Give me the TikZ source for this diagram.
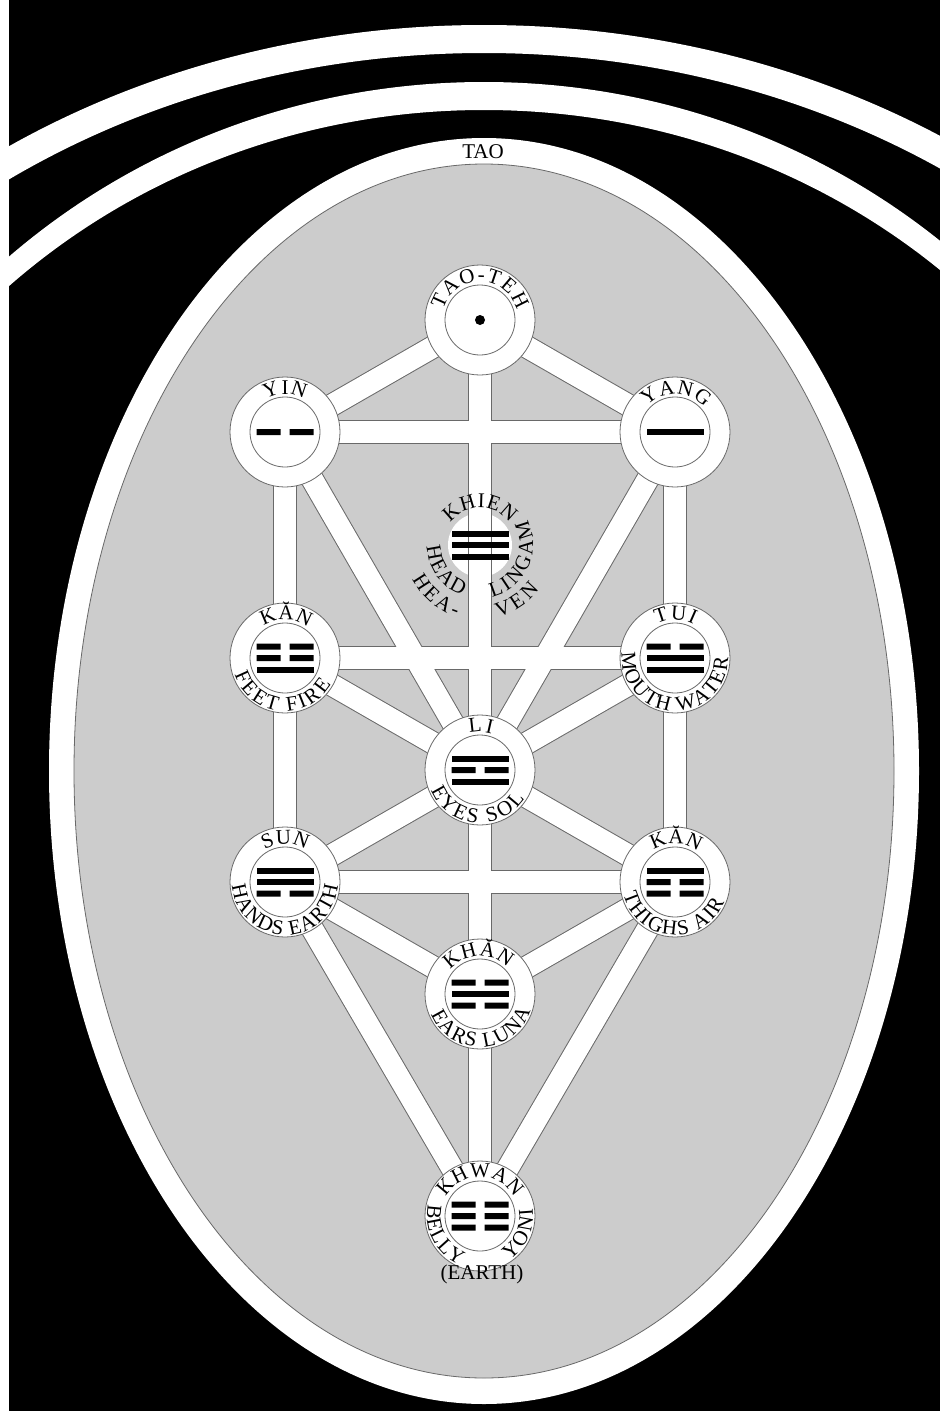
\documentclass[tikz,border=0pt]{standalone}
\usepackage{fontspec}
\setmainfont{Liberation Serif}
\usetikzlibrary{decorations.text,calc}
\definecolor{bgray}{RGB}{204,204,204}
\definecolor{egray}{RGB}{105,105,105}
\newcommand\lbl{\fontsize{21}{21}\selectfont}
\newcommand\ArcTxt[5]{\path[decorate,decoration={text along path,text align={fit to path},text={|\lbl|#5}}] ($(#1)+(#3:#2)$) arc[start angle=#3,end angle=#4,radius=#2];}
\newcommand\Sbar[2]{\fill[black] ($(#1)+(-28.5,#2-3)$) rectangle ++(57,6);}
\newcommand\Bbar[2]{\fill[black] ($(#1)+(-28.5,#2-3)$) rectangle ++(24,6) ($(#1)+(4.5,#2-3)$) rectangle ++(24,6);}
\tikzset{
  ring/.style={circle,draw=egray,line width=0.8,fill=white,minimum size=110,inner sep=0},
  innerc/.style={circle,draw=egray,line width=0.8,fill=white,minimum size=70,inner sep=0},
  pathedge/.style={draw=egray,line width=23.5},
  pathfill/.style={draw=white,line width=21.5},
}
\begin{document}
\begin{tikzpicture}[x=1pt,y=1pt]
\useasboundingbox (0,0) rectangle (940,-1411);
\fill[white] (0,0) rectangle (940,-1411);
\begin{scope}
\clip (9,0) rectangle (940,-1411);
\fill[black] (9,0) rectangle (940,-1411);
\fill[white] (484+869,-771) arc[start angle=0,end angle=180,x radius=869,y radius=746] -- (484-838,-771) arc[start angle=180,end angle=0,x radius=838,y radius=718] -- cycle;
\fill[white] (484+714,-771) arc[start angle=0,end angle=180,x radius=714,y radius=689] -- (484-699,-771) arc[start angle=180,end angle=0,x radius=699,y radius=661] -- cycle;
\fill[white] (484,-771) ellipse[x radius=435,y radius=633];
\filldraw[fill=bgray,draw=egray,line width=0.8] (484,-771) ellipse[x radius=410,y radius=607];
\end{scope}
\node[font=\lbl,inner sep=0] (tao) at (483,-152) {TAO};
% sephiroth centres
\coordinate (TT) at (480,-320);
\coordinate (YIN) at (285,-432);
\coordinate (YANG) at (675,-432);
\coordinate (KHIEN) at (480,-545);
\coordinate (KAN) at (285,-658);
\coordinate (TUI) at (675,-658);
\coordinate (LI) at (480,-770);
\coordinate (SUN) at (285,-882);
\coordinate (KANB) at (675,-882);
\coordinate (KHAN) at (480,-994);
\coordinate (KHWAN) at (480,-1216);
% hidden sephira
\node[circle,fill=white,minimum size=64,inner sep=0] (KHIENc) at (KHIEN) {};
% paths
\foreach \a/\b in {TT/YIN,TT/YANG,TT/LI,YIN/YANG,YIN/KAN,YIN/LI,YANG/TUI,YANG/LI,KAN/TUI,KAN/LI,KAN/SUN,TUI/LI,TUI/KANB,LI/SUN,LI/KANB,LI/KHAN,SUN/KANB,SUN/KHAN,SUN/KHWAN,KANB/KHAN,KANB/KHWAN,KHAN/KHWAN}
  \draw[pathedge] (\a) -- (\b);
\foreach \a/\b in {TT/YIN,TT/YANG,TT/LI,YIN/YANG,YIN/KAN,YIN/LI,YANG/TUI,YANG/LI,KAN/TUI,KAN/LI,KAN/SUN,TUI/LI,TUI/KANB,LI/SUN,LI/KANB,LI/KHAN,SUN/KANB,SUN/KHAN,SUN/KHWAN,KANB/KHAN,KANB/KHWAN,KHAN/KHWAN}
  \draw[pathfill] (\a) -- (\b);
% rings
\foreach \n in {TT,YIN,YANG,KAN,TUI,LI,SUN,KANB,KHAN,KHWAN}{
  \node[ring] (\n r) at (\n) {};
  \node[innerc] (\n i) at (\n) {};
}
% symbols
\fill[black] (TT) circle[radius=5];
\Bbar{YIN}{0}
\Sbar{YANG}{0}
\Sbar{KHIEN}{11.5}\Sbar{KHIEN}{0}\Sbar{KHIEN}{-11.5}
\Bbar{KAN}{11.5}\Bbar{KAN}{0}\Sbar{KAN}{-11.5}
\Bbar{TUI}{11.5}\Sbar{TUI}{0}\Sbar{TUI}{-11.5}
\Sbar{LI}{11.5}\Bbar{LI}{0}\Sbar{LI}{-11.5}
\Sbar{SUN}{11.5}\Sbar{SUN}{0}\Bbar{SUN}{-11.5}
\Sbar{KANB}{11.5}\Bbar{KANB}{0}\Bbar{KANB}{-11.5}
\Bbar{KHAN}{11.5}\Sbar{KHAN}{0}\Bbar{KHAN}{-11.5}
\Bbar{KHWAN}{11.5}\Bbar{KHWAN}{0}\Bbar{KHWAN}{-11.5}
% labels
\ArcTxt{TT}{38}{165}{15}{TAO-TEH}
\ArcTxt{YIN}{38}{120}{60}{YIN}
\ArcTxt{YANG}{38}{137}{40}{YANG}
\ArcTxt{KHIEN}{37}{143}{37}{KHIEN}
\ArcTxt{KHIEN}{53}{182}{250}{HEAD}
\ArcTxt{KHIEN}{53}{283}{388}{LINGAM}
\ArcTxt{KHIEN}{76}{207}{252}{HEA-}
\ArcTxt{KHIEN}{74}{284}{323}{VEN}
\ArcTxt{KAN}{38}{124}{53}{KĂN}
\ArcTxt{KAN}{53}{198}{330}{FEET FIRE}
\ArcTxt{TUI}{38}{118}{61}{TUI}
\ArcTxt{TUI}{53}{174}{360}{MOUTH WATER}
\ArcTxt{LI}{38}{106}{72}{LI}
\ArcTxt{LI}{53}{202}{327}{EYES SOL}
\ArcTxt{SUN}{38}{122}{57}{SUN}
\ArcTxt{SUN}{53}{184}{356}{HANDS EARTH}
\ArcTxt{KANB}{38}{124}{53}{KĂN}
\ArcTxt{KANB}{53}{194}{338}{THIGHS AIR}
\ArcTxt{KHAN}{38}{141}{44}{KHĂN}
\ArcTxt{KHAN}{53}{202}{342}{EARS LUNA}
\ArcTxt{KHWAN}{39}{151}{29}{KHWAN}
\ArcTxt{KHWAN}{53}{167}{247}{BELLY}
\ArcTxt{KHWAN}{53}{304}{368}{YONI}
\node[font=\lbl,inner sep=0] (earth) at (482,-1274) {(EARTH)};
\end{tikzpicture}
\end{document}
